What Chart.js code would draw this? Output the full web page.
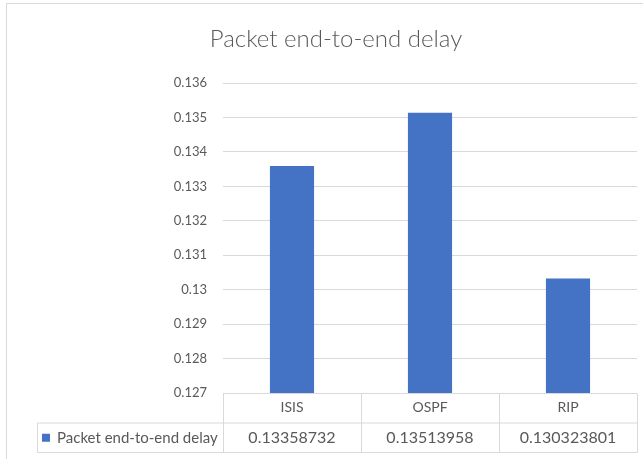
<!DOCTYPE html>
<html>
<head>
<meta charset="utf-8">
<script src="https://cdn.jsdelivr.net/npm/chart.js@4/dist/chart.umd.min.js"></script>
<style>
  html, body { margin: 0; padding: 0; background: #ffffff; }
  #wrap { width: 643px; height: 459px; position: relative; }
</style>
</head>
<body>
<div id="wrap"><canvas id="chart" width="643" height="459"></canvas></div>
<script>
// Routing protocols compared
const categories = ['ISIS', 'OSPF', 'RIP'];
// Mean packet end-to-end delay per protocol (seconds)
const delayValues = [0.13358732, 0.13513958, 0.130323801];
const seriesName = 'Packet end-to-end delay';
const chartTitle = 'Packet end-to-end delay';
const yMin = 0.127;
const yMax = 0.136;
const yStep = 0.001;

const TEXT = '#595959';
const LINE = '#d9d9d9';
const BAR = '#4472c4';
const FONT = 'Lato, "Open Sans", sans-serif';

// Frame, heading, and the data table under the plot aligned with the category scale
const dataTable = {
  id: 'dataTable',
  beforeDraw(chart) {
    const ctx = chart.ctx;
    ctx.save();
    ctx.strokeStyle = LINE;
    ctx.lineWidth = 1;
    ctx.strokeRect(6.5, 3.5, 700, 500);
    ctx.fillStyle = TEXT;
    ctx.font = '300 24px ' + FONT;
    ctx.textAlign = 'center';
    ctx.textBaseline = 'middle';
    ctx.fillText(chartTitle, 336, 39);
    ctx.restore();
  },
  afterDraw(chart) {
    const ctx = chart.ctx;
    const x = chart.scales.x;
    const area = chart.chartArea;
    const top = Math.round(area.bottom) + 0.5;
    const rowH = 29.5;
    const mid = top + rowH;
    const bottom = mid + rowH;
    const legendLeft = 37.5;
    const half = (x.getPixelForValue(1) - x.getPixelForValue(0)) / 2;
    const edges = categories.map((c, i) => Math.round(x.getPixelForValue(i) - half) + 0.5);
    edges.push(Math.round(x.getPixelForValue(categories.length - 1) + half) + 0.5);

    ctx.save();
    ctx.strokeStyle = LINE;
    ctx.lineWidth = 1;
    ctx.beginPath();
    edges.forEach(ex => { ctx.moveTo(ex, top); ctx.lineTo(ex, bottom); });
    ctx.moveTo(legendLeft, mid); ctx.lineTo(edges[edges.length - 1], mid);
    ctx.moveTo(legendLeft, bottom); ctx.lineTo(edges[edges.length - 1], bottom);
    ctx.moveTo(legendLeft, mid); ctx.lineTo(legendLeft, bottom);
    ctx.stroke();

    ctx.fillStyle = TEXT;
    ctx.font = '14px ' + FONT;
    ctx.textAlign = 'center';
    ctx.textBaseline = 'middle';
    categories.forEach((c, i) => {
      ctx.fillText(c, x.getPixelForValue(i), top + rowH / 2 - 1);
    });
    const ds = chart.data.datasets[0];
    ctx.font = '16px ' + FONT;
    ds.data.forEach((v, i) => {
      ctx.fillText(String(v), x.getPixelForValue(i), mid + rowH / 2);
    });

    // legend key inside the first table cell
    ctx.fillStyle = ds.backgroundColor;
    ctx.fillRect(42, mid + rowH / 2 - 4, 8, 8);
    ctx.fillStyle = TEXT;
    ctx.font = '15px ' + FONT;
    ctx.textAlign = 'left';
    ctx.fillText(ds.label, 57, mid + rowH / 2);
    ctx.restore();
  }
};

new Chart(document.getElementById('chart'), {
  type: 'bar',
  data: {
    labels: categories,
    datasets: [{
      label: seriesName,
      data: delayValues,
      backgroundColor: BAR,
      borderWidth: 0,
      categoryPercentage: 1,
      barPercentage: 0.32
    }]
  },
  options: {
    responsive: false,
    animation: false,
    layout: { padding: { top: 83, left: 0, right: 6, bottom: 66 } },
    plugins: {
      legend: { display: false },
      tooltip: { enabled: false },
      title: { display: false }
    },
    scales: {
      x: {
        display: false
      },
      y: {
        min: yMin,
        max: yMax,
        border: { display: false },
        grid: { color: LINE, drawTicks: false, lineWidth: 1 },
        ticks: {
          stepSize: yStep,
          color: TEXT,
          padding: 16,
          font: { family: FONT, size: 13 },
          callback: v => String(+v.toFixed(3))
        },
        afterFit(axis) { axis.width = 223; }
      }
    }
  },
  plugins: [dataTable]
});
</script>
</body>
</html>
